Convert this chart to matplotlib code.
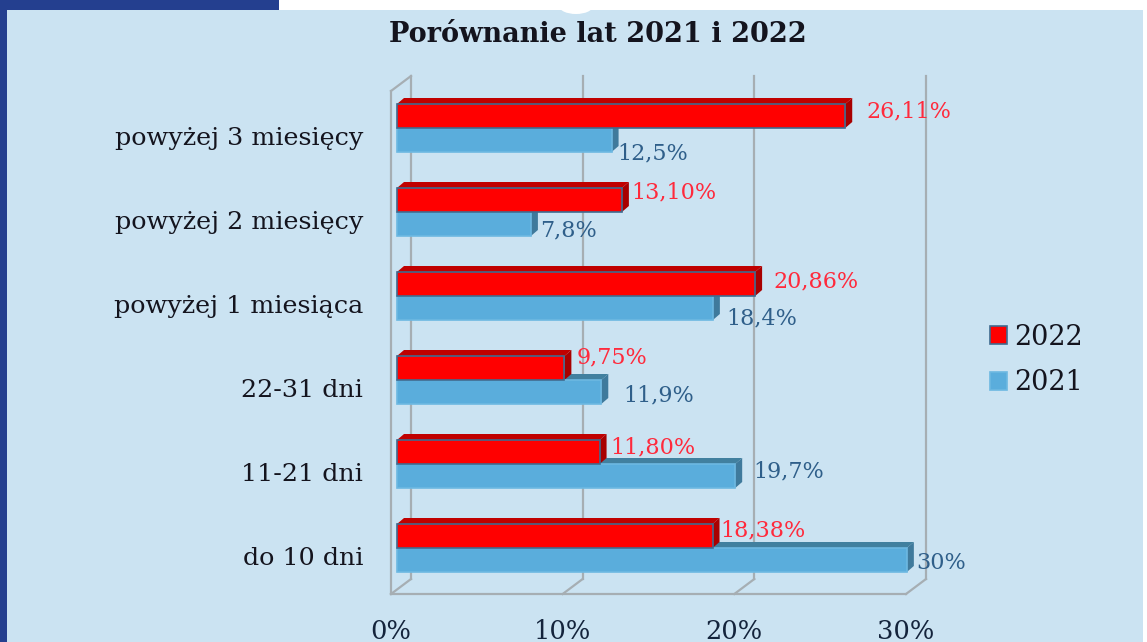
import matplotlib
matplotlib.use("Agg")
import matplotlib.pyplot as plt
from matplotlib.patches import Polygon, Rectangle, Ellipse

plt.rcParams['font.family'] = ['DejaVu Serif']

categories = ["do 10 dni", "11-21 dni", "22-31 dni", "powyżej 1 miesiąca", "powyżej 2 miesięcy", "powyżej 3 miesięcy"]
values_2022 = [18.38, 11.80, 9.75, 20.86, 13.10, 26.11]
values_2021 = [29.7, 19.7, 11.9, 18.4, 7.8, 12.5]
labels_2022 = ["18,38%", "11,80%", "9,75%", "20,86%", "13,10%", "26,11%"]
labels_2021 = ["30%", "19,7%", "11,9%", "18,4%", "7,8%", "12,5%"]
x_ticks = [0, 10, 20, 30]
x_tick_labels = ["0%", "10%", "20%", "30%"]

# hand placed label offsets in pixels, from the end of each bar
offsets_2022 = [(8, 6), (11, 5), (12, 11), (18, 3), (9, 8), (21, 5)]
offsets_2021 = [(9, -3), (18, 5), (22, -3), (13, -10), (9, -6), (6, -13)]

W, H = 1147, 642
BG = "#cbe3f2"
NAVY = "#243f8f"
GRID = "#a6aeb3"

fig = plt.figure(figsize=(W / 100, H / 100), dpi=100, facecolor="white")

# page behind the chart, in pixels
bg = fig.add_axes([0, 0, 1, 1])
bg.set_xlim(0, W)
bg.set_ylim(H, 0)
bg.axis("off")
bg.add_patch(Rectangle((7, 10), 1136, 632, fc=BG, ec="none"))
bg.add_patch(Rectangle((0, 0), 7, H, fc=NAVY, ec="none"))
bg.add_patch(Rectangle((0, 0), 279, 10, fc=NAVY, ec="none"))
bg.add_patch(Ellipse((576, 6), 34, 16, fc="white", ec="none"))
bg.text(598, 34, "Porównanie lat 2021 i 2022", ha="center", va="center",
        fontsize=19.5, fontweight="bold", color="#14141e")

# chart axes: x=0..30 is the front floor edge, 1 y unit is one group (84 px)
px_x = 515 / 30
px_y = 84
ax = fig.add_axes([391 / W, (H - 594) / H, 515 / W, 503 / H])
ax.patch.set_alpha(0)
ax.set_xlim(0, 30)
ax.set_ylim(-46 / px_y, 457 / px_y)
for s in ax.spines.values():
    s.set_visible(False)

# walls and floor
ymin, ymax = ax.get_ylim()
wall_dx = 20 / px_x
wall_dy = 15 / px_y
wall = dict(color=GRID, lw=1.6, clip_on=False, zorder=1)
for t in x_ticks:
    ax.plot([t + wall_dx, t + wall_dx], [ymin + wall_dy, ymax + wall_dy], **wall)
    ax.plot([t, t + wall_dx], [ymin, ymin + wall_dy], **wall)
ax.plot([0, 0], [ymin, ymax], **wall)
ax.plot([0, wall_dx], [ymax, ymax + wall_dy], **wall)
ax.plot([0, 30], [ymin, ymin], **wall)

# bars with a fake 3d top and side
left = 6 / px_x
bar_h = 24 / px_y
dx = 7 / px_x
dy = 6 / px_y
ypos = list(range(len(categories)))


def bar3d(y, v, front, top, side, edge, label):
    x1 = left + v
    y0, y1 = y - bar_h / 2, y + bar_h / 2
    ax.add_patch(Polygon([(left, y1), (left + dx, y1 + dy), (x1 + dx, y1 + dy), (x1, y1)],
                         fc=top, ec="none", zorder=3, clip_on=False))
    ax.add_patch(Polygon([(x1, y0), (x1, y1), (x1 + dx, y1 + dy), (x1 + dx, y0 + dy)],
                         fc=side, ec="none", zorder=3, clip_on=False))
    ax.barh(y, v, height=bar_h, left=left, color=front, edgecolor=edge, linewidth=1.2,
            zorder=4, clip_on=False, label=label)


for i in ypos:
    bar3d(i - bar_h / 2, values_2021[i], "#5aaddc", "#41809f", "#3f7a9c", "#6db8e2",
          "2021" if i == 0 else None)
    bar3d(i + bar_h / 2, values_2022[i], "#ff0000", "#c00000", "#a80000", "#3f6a8f",
          "2022" if i == 0 else None)
    ax.annotate(labels_2022[i], (left + values_2022[i], i + bar_h / 2), xytext=offsets_2022[i],
                textcoords="offset pixels", ha="left", va="center", fontsize=16,
                color="#ff2a3c", zorder=6, annotation_clip=False)
    ax.annotate(labels_2021[i], (left + values_2021[i], i - bar_h / 2), xytext=offsets_2021[i],
                textcoords="offset pixels", ha="left", va="center", fontsize=16,
                color="#2f5f8a", zorder=6, annotation_clip=False)

ax.set_yticks([i - 8 / px_y for i in ypos])
ax.set_yticklabels(categories, fontsize=18.3, color="#14141e")
ax.set_xticks(x_ticks)
ax.set_xticklabels(x_tick_labels, fontsize=18.5, color="#14243c")
ax.tick_params(axis="y", length=0, pad=20)
ax.tick_params(axis="x", length=0, pad=18)

h, l = ax.get_legend_handles_labels()
order = [l.index("2022"), l.index("2021")]
ax.legend([h[k] for k in order], [l[k] for k in order], loc="center left", frameon=False,
          bbox_to_anchor=(990 / W, (H - 360) / H), bbox_transform=fig.transFigure,
          fontsize=19.5, handlelength=0.63, handleheight=0.63, handletextpad=0.28,
          labelspacing=0.7, borderpad=0, borderaxespad=0, labelcolor="#14141e")

fig.savefig("out.png", dpi=100)
